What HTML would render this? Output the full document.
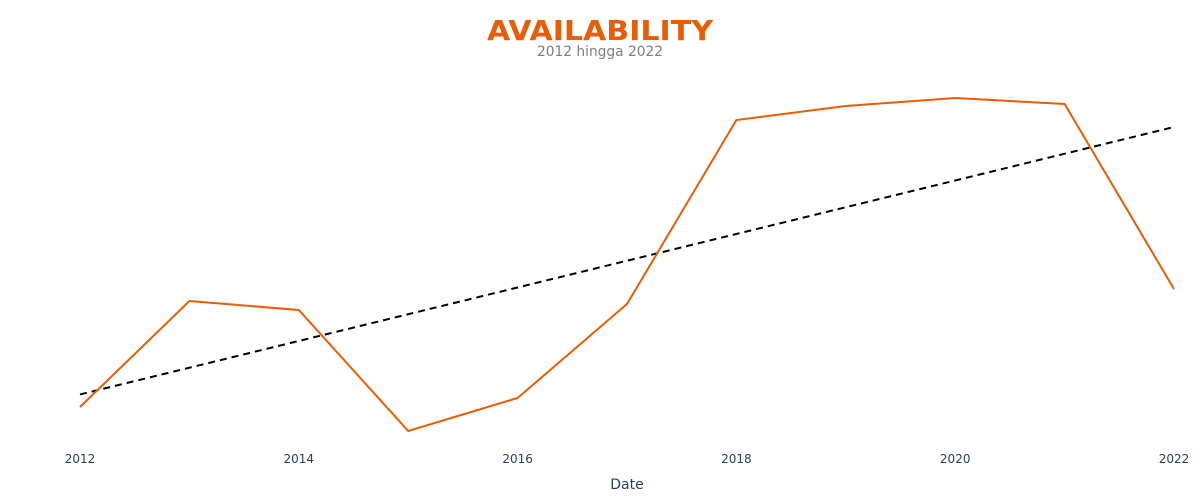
<!DOCTYPE html>
<html><head><meta charset="utf-8"><style>
body{margin:0;background:#fff;}
svg{display:block;font-family:"DejaVu Sans","Liberation Sans",sans-serif;}
</style></head><body>
<svg id="chart" width="1200" height="500" viewBox="0 0 1200 500">
<text x="600" y="40" text-anchor="middle" font-size="28" font-weight="bold" fill="#e85d04" textLength="226" lengthAdjust="spacingAndGlyphs">AVAILABILITY</text>
<text x="600" y="56" text-anchor="middle" font-size="14" fill="#7f7f7f" textLength="126" lengthAdjust="spacingAndGlyphs">2012 hingga 2022</text>
<g id="xticks"></g>
<text x="627" y="489" text-anchor="middle" font-size="14" fill="#2a3f5f">Date</text>
<path id="trend" fill="none" stroke="#000" stroke-width="2" stroke-dasharray="7,5"></path>
<path id="series" fill="none" stroke="#e85d04" stroke-width="2"></path>
</svg>
<script>
const years = [2012,2013,2014,2015,2016,2017,2018,2019,2020,2021,2022];
const values = [13.25,39.75,37.5,7.25,15.5,39,85,88.5,90.5,89,42.75];
const tickYears = [2012,2014,2016,2018,2020,2022];
const tickLabels = ["2012","2014","2016","2018","2020","2022"];

function xScale(yr){return 80 + (yr-2012)*(1174-80)/10;}
function yScale(v){return 460 - v*4;}

document.getElementById('series').setAttribute('d', years.map((y,i)=>(i?'L':'M')+xScale(y)+','+yScale(values[i])).join(''));

const n=years.length, mx=years.reduce((a,b)=>a+b,0)/n, my=values.reduce((a,b)=>a+b,0)/n;
let num=0,den=0;
years.forEach((y,i)=>{num+=(y-mx)*(values[i]-my);den+=(y-mx)*(y-mx);});
const slope=num/den, icpt=my-slope*mx;
const x0=years[0], x1=years[n-1];
document.getElementById('trend').setAttribute('d','M'+xScale(x0)+','+yScale(icpt+slope*x0)+'L'+xScale(x1)+','+yScale(icpt+slope*x1));

const g=document.getElementById('xticks');
tickYears.forEach((t,i)=>{
  const el=document.createElementNS('http://www.w3.org/2000/svg','text');
  
  
  el.setAttribute('x',xScale(t));el.setAttribute('y',463);
  el.setAttribute('text-anchor','middle');el.setAttribute('font-size','12');el.setAttribute('fill','#2a3f5f');
  el.textContent=tickLabels[i];g.appendChild(el);
});
</script>
</body></html>
